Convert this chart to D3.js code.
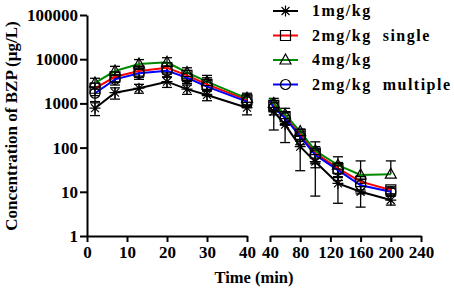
<!DOCTYPE html>
<html><head><meta charset="utf-8">
<script src="https://cdn.jsdelivr.net/npm/d3@7"></script>
<style>
html,body{margin:0;padding:0;background:#fff;}
text{font-family:"Liberation Serif","Times New Roman",serif;font-weight:bold;fill:#000;}
</style></head>
<body><svg id="c" width="454" height="288"></svg>
<script>
// ---- data ----
const seriesNames = ["1mg/kg", "2mg/kg  single", "4mg/kg", "2mg/kg  multiple"];
const timesEarly = [2, 7, 13, 20, 25, 30, 40];
const timesLate = [40, 45, 60, 80, 100, 130, 160, 200];

const dose1Early  = [780, 1750, 2200, 3100, 2100, 1550, 800];
const dose2sEarly = [2200, 4000, 5400, 6400, 4300, 2700, 1200];
const dose4Early  = [2900, 5400, 7800, 8500, 5000, 3100, 1300];
const dose2mEarly = [1700, 3500, 4800, 5500, 3800, 2400, 1100];
const sd1Early  = [250, 500, 500, 800, 500, 400, 250];
const sd2sEarly = [700, 1000, 1500, 1800, 1200, 1100, 350];
const sd4Early  = [800, 1500, 2000, 2300, 1400, 1200, 400];
const sd2mEarly = [600, 900, 1300, 1500, 1000, 900, 300];

const dose1Late  = [800, 650, 330, 105, 48, 15.5, 10, 6.5];
const dose2sLate = [1200, 900, 500, 200, 75, 34, 17, 11];
const dose4Late  = [1300, 1000, 560, 230, 85, 40, 24, 25];
const dose2mLate = [1100, 800, 470, 176, 68, 31, 14, 10];
const sd1Late  = [250, 400, 200, 75, 40, 10, 5.5, 1.5];
const sd2sLate = [350, 250, 150, 60, 30, 12, 6, 2];
const sd4Late  = [400, 300, 215, 30, 50, 22, 26, 25];
const sd2mLate = [300, 250, 150, 60, 25, 10, 5, 2];

const yTicks = [1, 10, 100, 1000, 10000, 100000];
const xTicksEarly = [0, 10, 20, 30, 40];
const xTicksLate = [40, 80, 120, 160, 200, 240];

// ---- layout ----
const colors = ["#000000", "#ff0000", "#008a00", "#0000ff"];
const shapes = ["star", "square", "triangle", "circle"];
const svg = d3.select("#c");
const y = d3.scaleLog().domain([1, 100000]).range([236, 15]);
const xE = d3.scaleLinear().domain([0, 40]).range([87, 247]);
const xL = d3.scaleLinear().domain([40, 240]).range([270, 421]);

const early = [dose1Early, dose2sEarly, dose4Early, dose2mEarly];
const earlySd = [sd1Early, sd2sEarly, sd4Early, sd2mEarly];
const late = [dose1Late, dose2sLate, dose4Late, dose2mLate];
const lateSd = [sd1Late, sd2sLate, sd4Late, sd2mLate];

function markerPath(shape) {
  if (shape === "star") {
    const r = 5.5, d = r * 0.72;
    return `M0,${-r}L0,${r}M${-r},0L${r},0M${-d},${-d}L${d},${d}M${-d},${d}L${d},${-d}`;
  }
  if (shape === "square") return "M-5,-5H5V5H-5Z";
  if (shape === "triangle") return "M0,-6L5.5,4H-5.5Z";
  return d3.arc()({innerRadius: 0, outerRadius: 5, startAngle: 0, endAngle: 2 * Math.PI});
}

// axes
function styleAxis(g) {
  g.selectAll("path.domain").attr("stroke", "#000").attr("stroke-width", 2);
  g.selectAll(".tick line").attr("stroke", "#000").attr("stroke-width", 2);
  g.selectAll(".tick text").style("font-size", "17px").style("font-family", '"Liberation Serif",serif').style("font-weight", "bold");
}
const gy = svg.append("g").attr("transform", "translate(87,0)")
  .call(d3.axisLeft(y).tickValues(yTicks).tickFormat(d3.format("d")).tickSize(7).tickSizeOuter(0).tickPadding(2));
styleAxis(gy);
const gxE = svg.append("g").attr("transform", "translate(0,236)")
  .call(d3.axisBottom(xE).tickValues(xTicksEarly).tickSize(6).tickSizeOuter(0).tickPadding(4));
styleAxis(gxE);
const gxL = svg.append("g").attr("transform", "translate(0,236)")
  .call(d3.axisBottom(xL).tickValues(xTicksLate).tickSize(6).tickSizeOuter(0).tickPadding(4));
styleAxis(gxL);

svg.append("text").attr("x", 254).attr("y", 283).attr("text-anchor", "middle")
  .style("font-size", "16.5px").text("Time (min)");
svg.append("text").attr("transform", "translate(17,126) rotate(-90)").attr("text-anchor", "middle")
  .style("font-size", "17px").text("Concentration of BZP (µg/L)");

// data
function drawPanel(xs, times, vals, sds, skipFirstMarker) {
  const order = [0, 1, 2, 3];
  // error bars
  order.forEach(s => {
    times.forEach((t, i) => {
      if (skipFirstMarker && i === 0) return;
      const m = vals[s][i], sd = sds[s][i];
      const hi = m + sd, lo = m - sd;
      const cx = xs(t);
      const g = svg.append("g").attr("stroke", "#000").attr("stroke-width", 1.3).attr("fill", "none");
      const yTop = y(hi), yBot = lo > 1 ? y(lo) : y(m);
      g.append("line").attr("x1", cx).attr("x2", cx).attr("y1", yTop).attr("y2", yBot);
      g.append("line").attr("x1", cx - 5).attr("x2", cx + 5).attr("y1", yTop).attr("y2", yTop);
      if (lo > 1) g.append("line").attr("x1", cx - 5).attr("x2", cx + 5).attr("y1", yBot).attr("y2", yBot);
    });
  });
  // lines
  order.forEach(s => {
    const line = d3.line().x((d, i) => xs(times[i])).y(d => y(d));
    svg.append("path").attr("d", line(vals[s])).attr("fill", "none")
      .attr("stroke", colors[s]).attr("stroke-width", 2);
  });
  // markers
  order.forEach(s => {
    times.forEach((t, i) => {
      if (skipFirstMarker && i === 0) return;
      svg.append("path").attr("d", markerPath(shapes[s]))
        .attr("transform", `translate(${xs(t)},${y(vals[s][i])})`)
        .attr("fill", "none").attr("stroke", "#000").attr("stroke-width", 1.2);
    });
  });
}
drawPanel(xE, timesEarly, early, earlySd, false);
drawPanel(xL, timesLate, late, lateSd, true);

// legend
seriesNames.forEach((name, i) => {
  const by = 16 + i * 24.5;
  const ly = by - 5;
  svg.append("line").attr("x1", 273).attr("x2", 298).attr("y1", ly).attr("y2", ly)
    .attr("stroke", colors[i]).attr("stroke-width", 2);
  svg.append("path").attr("d", markerPath(shapes[i])).attr("transform", `translate(285.5,${ly})`)
    .attr("fill", "none").attr("stroke", "#000").attr("stroke-width", 1.2);
  svg.append("text").attr("x", 312).attr("y", by).style("font-size", "16px")
    .style("letter-spacing", "1.5px").style("white-space", "pre").text(name);
});
</script></body></html>
